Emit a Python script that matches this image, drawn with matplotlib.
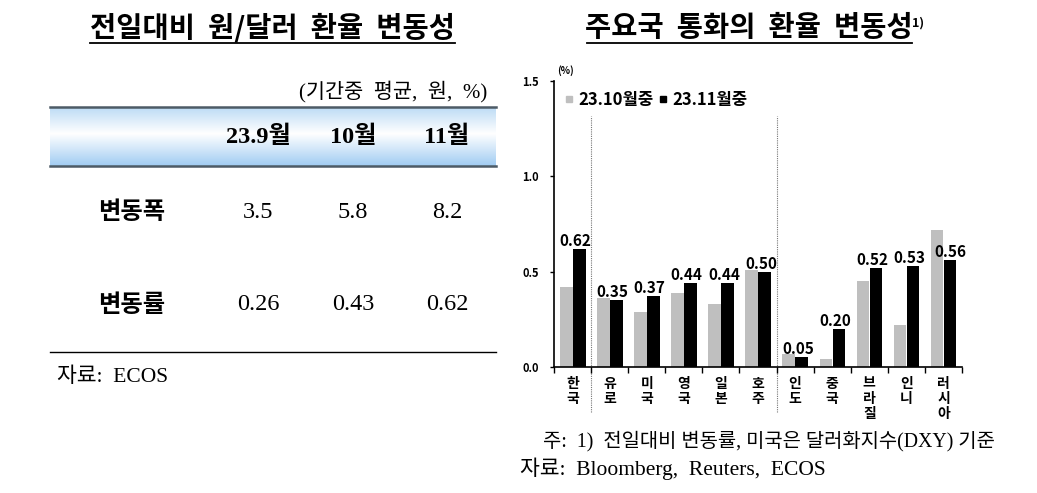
import matplotlib
matplotlib.use("Agg")
import matplotlib.pyplot as plt
import numpy as np
from matplotlib.lines import Line2D

# ---------------- data ----------------
countries = ["한국", "유로", "미국", "영국", "일본", "호주", "인도", "중국", "브라질", "인니", "러시아"]
oct_vals = [0.42, 0.36, 0.29, 0.39, 0.33, 0.51, 0.07, 0.04, 0.45, 0.22, 0.72]
nov_vals = [0.62, 0.35, 0.37, 0.44, 0.44, 0.50, 0.05, 0.20, 0.52, 0.53, 0.56]
series_names = ["23.10월중", "23.11월중"]
y_ticks = [0.0, 0.5, 1.0, 1.5]

table_cols = ["23.9월", "10월", "11월"]
table_rows = ["변동폭", "변동률"]
table_vals = [["3.5", "5.8", "8.2"], ["0.26", "0.43", "0.62"]]

W, H = 1037, 493
fig = plt.figure(figsize=(W / 100, H / 100), dpi=100)

SANS = ["Noto Sans CJK KR", "DejaVu Sans"]
SERIF = ["Liberation Serif", "Noto Sans CJK KR"]

def fx(px):
    return px / W

def fy(py):
    return 1 - py / H

# ---------------- titles ----------------
fig.text(fx(272), fy(28), "전일대비  원/달러  환율  변동성", ha="center", va="center",
         fontsize=20.5, fontweight="bold", family=SANS)
fig.add_artist(Line2D([fx(90), fx(455)], [fy(43), fy(43)], color="black", lw=1.3))

fig.text(fx(749), fy(28), "주요국  통화의  환율  변동성", ha="center", va="center",
         fontsize=20.5, fontweight="bold", family=SANS)
fig.text(fx(912), fy(23), "1)", ha="left", va="center", fontsize=9, fontweight="bold", family=SANS)
fig.add_artist(Line2D([fx(587), fx(912)], [fy(43), fy(43)], color="black", lw=1.3))

# ---------------- table ----------------
fig.text(fx(487), fy(92), "(기간중  평균,  원,  %)", ha="right", va="center", fontsize=15, family=SERIF)

# gradient header
gax = fig.add_axes([fx(50), fy(166), fx(496) - fx(50), fy(107) - fy(166)])
top_c = np.array([0.74, 0.86, 0.96])
mid_c = np.array([1.0, 1.0, 1.0])
bot_c = np.array([0.63, 0.80, 0.95])
n = 100
t = np.linspace(0, 1, n)
grad = np.zeros((n, 1, 3))
for i, tt in enumerate(t):
    if tt < 0.45:
        c = top_c + (mid_c - top_c) * (tt / 0.45)
    else:
        c = mid_c + (bot_c - mid_c) * ((tt - 0.45) / 0.55)
    grad[i, 0] = c
gax.imshow(grad, aspect="auto", extent=[0, 1, 0, 1])
gax.set_axis_off()
fig.add_artist(Line2D([fx(50), fx(496)], [fy(107), fy(107)], color="#4d5b66", lw=1.8))
fig.add_artist(Line2D([fx(50), fx(496)], [fy(166), fy(166)], color="#4d5b66", lw=1.8))

col_x = [258, 353, 447]
for cx, lab in zip(col_x, table_cols):
    fig.text(fx(cx), fy(137), lab, ha="center", va="center", fontsize=17.5, fontweight="bold", family=SERIF)

row_y = [212, 305]
for ry, rlab, vals in zip(row_y, table_rows, table_vals):
    fig.text(fx(132), fy(ry), rlab, ha="center", va="center", fontsize=17.5, fontweight="bold", family=SANS)
    for cx, v in zip(col_x, vals):
        fig.text(fx(cx), fy(ry), v, ha="center", va="center", fontsize=17.5, family=SERIF)

fig.add_artist(Line2D([fx(50), fx(496)], [fy(352), fy(352)], color="black", lw=1.0))
fig.text(fx(57), fy(377), "자료:  ECOS", ha="left", va="center", fontsize=15.5, family=SERIF)

# ---------------- bar chart ----------------
ax = fig.add_axes([fx(554), fy(367), fx(962) - fx(554), fy(81) - fy(367)])
x = np.arange(len(countries))
bw = 0.34
ax.bar(x - 0.17, oct_vals, width=bw, color="#bfbfbf", zorder=2)
ax.bar(x + 0.18, nov_vals, width=bw, color="#000000", zorder=2)

ax.set_xlim(-0.5, len(countries) - 0.5)
ax.set_ylim(0, 1.5)
ax.set_yticks(y_ticks)
ax.set_yticklabels([f"{v:.1f}" for v in y_ticks], fontsize=8, fontweight="bold", family=SANS)
ax.tick_params(axis="y", direction="out", length=3, width=1, pad=8)

ax.set_xticks(x)
ax.set_xticklabels(["\n".join(list(c)) for c in countries], fontsize=10, fontweight="bold",
                   family=SANS, linespacing=1.12, va="top")
ax.tick_params(axis="x", length=0, pad=7)
ax.set_xticks(np.arange(len(countries) + 1) - 0.5, minor=True)
ax.tick_params(axis="x", which="minor", direction="out", length=4, width=1)

for s in ["top", "right"]:
    ax.spines[s].set_visible(False)
ax.spines["left"].set_linewidth(1.2)
ax.spines["bottom"].set_linewidth(1.2)

# group separators
for b in [0.5, 5.5]:
    ax.plot([b, b], [-0.236, 1.316], ls=(0, (1, 1)), color="#777777", lw=0.8, clip_on=False, zorder=1)

# value labels
nudge = [0.08] * len(countries)
nudge[-1] = 0.2
for xi, nv, nd in zip(x, nov_vals, nudge):
    ax.annotate(f"{nv:.2f}", (xi + nd, nv), xytext=(0, 0), textcoords="offset points",
                ha="center", va="bottom", fontsize=11, fontweight="bold", family=SANS)

# legend
handles = [Line2D([], [], marker="s", ls="none", color="#bfbfbf", markersize=5),
           Line2D([], [], marker="s", ls="none", color="#000000", markersize=5)]
ax.legend(handles, series_names, loc="upper left", bbox_to_anchor=(0.0, 1.0), ncol=2, frameon=False,
          handlelength=0.6, handletextpad=0.25, columnspacing=0.3, borderaxespad=0.2,
          prop={"family": SANS, "weight": "bold", "size": 12})

fig.text(fx(565), fy(71), "(%)", ha="center", va="center", fontsize=7, fontweight="bold", family=SANS)

# footnotes
fig.text(fx(543), fy(441), "주:  1)  전일대비 변동률, 미국은 달러화지수(DXY) 기준", ha="left", va="center",
         fontsize=14.3, family=SERIF)
fig.text(fx(520), fy(469), "자료:  Bloomberg,  Reuters,  ECOS", ha="left", va="center",
         fontsize=15.5, family=SERIF)

fig.savefig("out.png", dpi=100)
